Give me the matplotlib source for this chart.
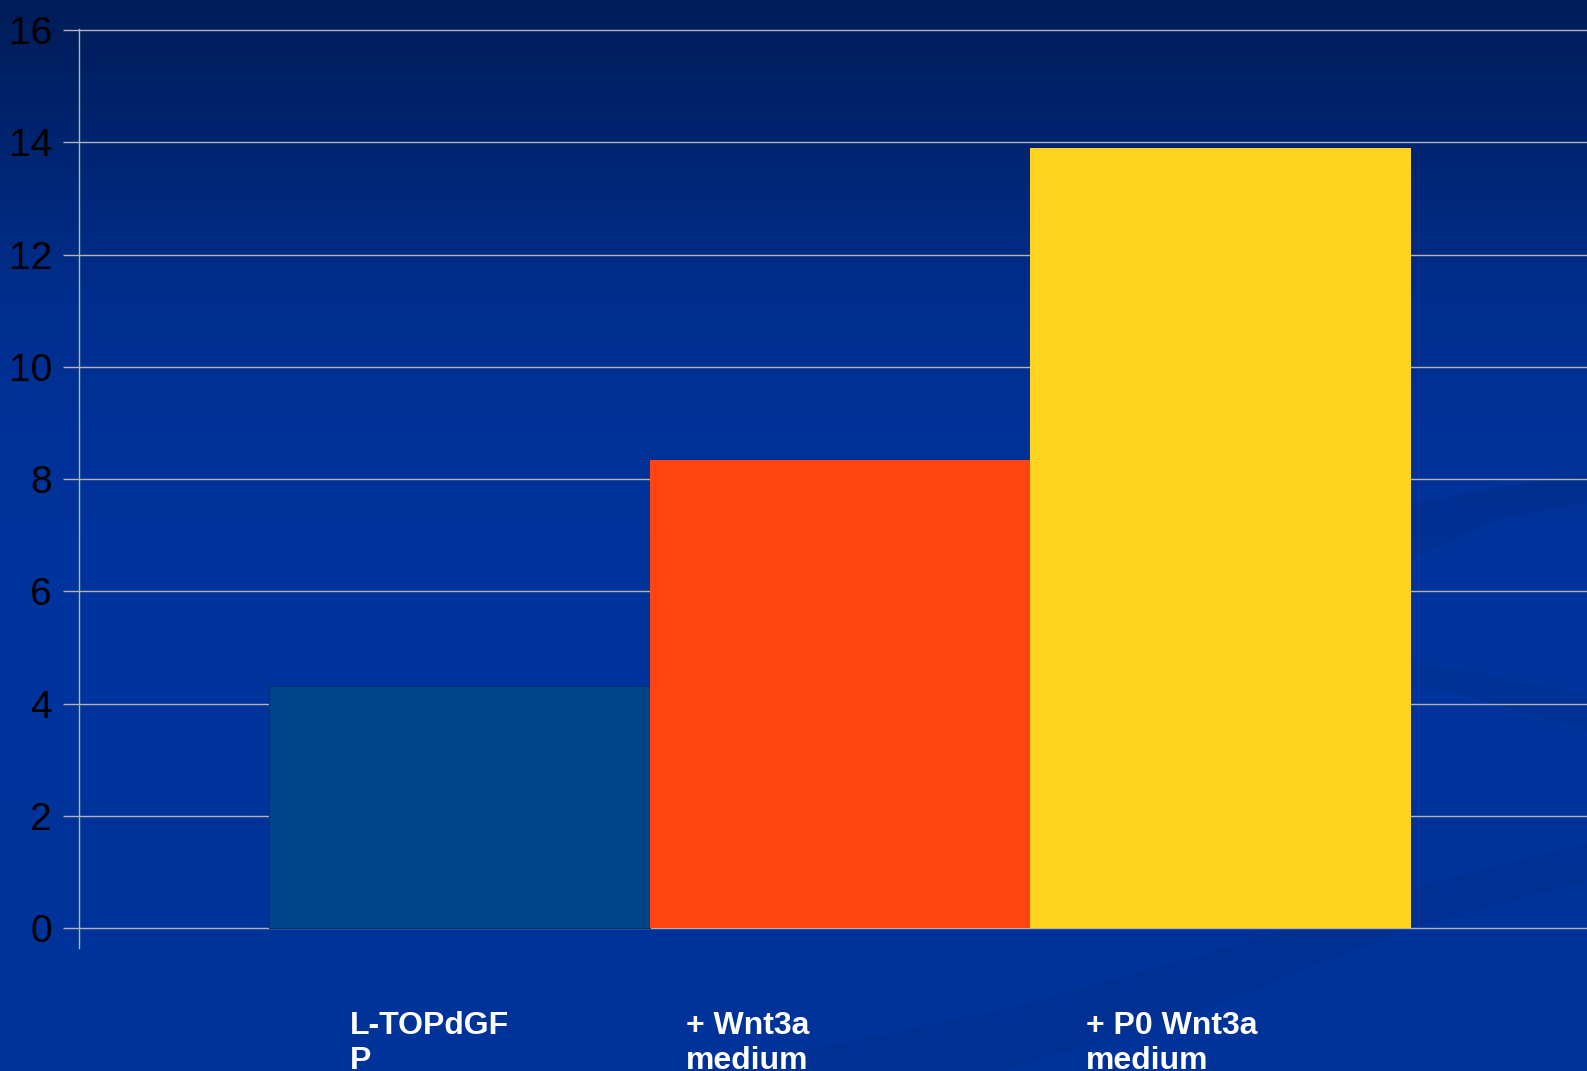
import numpy as np
from matplotlib import pyplot as plt
from matplotlib.colors import LinearSegmentedColormap
from matplotlib.transforms import blended_transform_factory

categories = ['L-TOPdGF\nP', '+ Wnt3a\nmedium', '+ P0 Wnt3a\nmedium']
values = [4.32, 8.34, 13.9]
bar_colors = ['#004488', '#ff4411', '#ffd320']
yticks = [0, 2, 4, 6, 8, 10, 12, 14, 16]

# where each label starts, relative to the bar index (left aligned)
label_offsets = [-0.288, -0.405, -0.354]

W, H = 1587, 1071
fig = plt.figure(figsize=(W / 100, H / 100), dpi=100)

# gradient background of the slide
bg = fig.add_axes([0, 0, 1, 1])
bg_cmap = LinearSegmentedColormap.from_list(
    'bg', [(0.0, '#001c58'), (0.3, '#002f90'), (0.5, '#00339c'), (1.0, '#00339a')])
grad = np.linspace(0, 1, 256).reshape(-1, 1)
bg.imshow(grad, aspect='auto', cmap=bg_cmap, extent=[0, W, H, 0])
bg.set_xlim(0, W)
bg.set_ylim(H, 0)
bg.axis('off')

# faint decorative swooshes on the slide background
swoosh = '#002a7c'
def band(xs, top, bottom, alpha=0.28):
    bg.fill_between(xs, top, bottom, color=swoosh, alpha=alpha, lw=0)

xs = np.array([700, 1000, 1200, 1412, 1587])
band(xs, [1071, 1010, 955, 887, 843], [1071, 1071, 1010, 927, 880])
xs = np.array([1400, 1500, 1587])
band(xs, [506, 486, 474], [563, 518, 502])
band(xs, [659, 676, 695], [681, 704, 731], alpha=0.2)

ax = fig.add_axes([79 / W, 123 / H, 1522 / W, 919 / H])
ax.patch.set_alpha(0)

x = np.arange(len(categories))
ax.bar(x, values, width=1.0, color=bar_colors, zorder=3,
       edgecolor=['#003366', 'none', 'none'], linewidth=0.8)

ax.set_xlim(-1, 3)
ax.set_ylim(-0.356, 16.02)
ax.set_yticks(yticks)
ax.set_xticks([])
ax.yaxis.grid(True, color='#b4b4b4', linewidth=1.0, zorder=1)

for s in ['top', 'right', 'bottom']:
    ax.spines[s].set_visible(False)
ax.spines['left'].set_color('#b4b4b4')
ax.spines['left'].set_linewidth(1.0)

ax.tick_params(axis='y', direction='out', length=11.5, width=1.0, color='#b4b4b4',
               pad=8, labelsize=28, labelcolor='black')
for lab in ax.get_yticklabels():
    lab.set_family(['Liberation Sans', 'DejaVu Sans'])

# category labels: x in data units, y in figure units (cut by the bottom edge, as on the slide)
trans = blended_transform_factory(ax.transData, fig.transFigure)
for i, cat in enumerate(categories):
    ax.text(x[i] + label_offsets[i], 1 - 1011 / H, cat, transform=trans,
            ha='left', va='top', color='white', fontsize=23, fontweight='bold',
            family=['Liberation Sans', 'DejaVu Sans'], linespacing=1.2,
            clip_on=False)

fig.savefig('out.png', dpi=100)
